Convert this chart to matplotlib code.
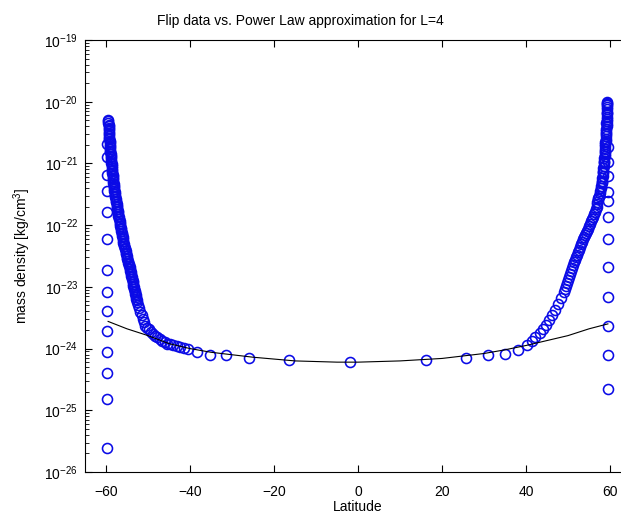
import matplotlib
matplotlib.use('Agg')
import matplotlib.pyplot as plt
import numpy as np

plt.rcParams['font.family'] = ['Liberation Sans', 'DejaVu Sans']
plt.rcParams['mathtext.fontset'] = 'custom'
plt.rcParams['mathtext.rm'] = 'Liberation Sans'

# flip data, dense band on the southern side (latitude, log10 density)
band_s_lat = [-59.5, -59.45, -59.4, -59.35, -59.3, -59.25, -59.2, -59.15, -59.1, -59.05,
              -58.97, -58.89, -58.81, -58.73, -58.65, -58.57, -58.49, -58.42, -58.34, -58.26, -58.18, -58.10,
              -57.97, -57.83, -57.70, -57.57, -57.43, -57.30, -57.17, -57.03, -56.90,
              -56.75, -56.60, -56.45, -56.30, -56.15, -56.00, -55.85, -55.70,
              -55.5, -55.3, -55.1, -54.9, -54.7, -54.5, -54.3,
              -54.13, -53.97, -53.80, -53.63, -53.47, -53.30,
              -53.13, -52.95, -52.78, -52.6,
              -52.33, -52.06, -51.79, -51.51, -51.24, -50.97, -50.70,
              -50.22, -49.74, -49.26, -48.78, -48.30,
              -47.74, -47.18, -46.62, -46.06, -45.50,
              -44.72, -43.95, -43.17, -42.40, -41.45, -40.50]
band_s_log = [-20.29, -20.34, -20.40, -20.45, -20.50, -20.56, -20.61, -20.66, -20.72, -20.77,
              -20.82, -20.88, -20.93, -20.99, -21.04, -21.10, -21.15, -21.20, -21.26, -21.31, -21.37, -21.42,
              -21.47, -21.53, -21.58, -21.63, -21.69, -21.74, -21.79, -21.85, -21.90,
              -21.96, -22.01, -22.07, -22.12, -22.18, -22.23, -22.29, -22.34,
              -22.39, -22.45, -22.50, -22.55, -22.61, -22.66, -22.71,
              -22.76, -22.82, -22.87, -22.92, -22.98, -23.03,
              -23.08, -23.14, -23.19, -23.24,
              -23.30, -23.35, -23.41, -23.46, -23.52, -23.57, -23.63,
              -23.66, -23.69, -23.73, -23.76, -23.79,
              -23.82, -23.84, -23.87, -23.89, -23.92,
              -23.93, -23.94, -23.96, -23.97, -23.99, -24.00]

# more points read in the solid part of the southern band
fill_s_lat = [-59.45, -59.40, -59.35, -59.30, -59.25, -59.20, -59.15, -59.10, -59.05, -58.98,
              -58.90, -58.82, -58.74, -58.66, -58.58, -58.50, -58.42, -58.34, -58.26, -58.18,
              -58.10, -58.00, -57.87, -57.74, -57.60, -57.47, -57.34, -57.20, -57.07, -56.94,
              -56.78, -56.63, -56.48, -56.33, -56.18, -56.03, -55.88, -55.73, -55.55, -55.35,
              -55.15, -54.95, -54.75, -54.55, -54.35, -54.17, -54.00, -53.83, -53.66, -53.50,
              -53.33, -53.15, -52.98, -52.80, -52.62]
fill_s_log = [-20.31, -20.37, -20.42, -20.47, -20.53, -20.58, -20.64, -20.69, -20.74, -20.80,
              -20.85, -20.90, -20.96, -21.01, -21.07, -21.12, -21.18, -21.23, -21.28, -21.34,
              -21.39, -21.45, -21.50, -21.55, -21.61, -21.66, -21.71, -21.77, -21.82, -21.87,
              -21.93, -21.98, -22.04, -22.09, -22.15, -22.20, -22.26, -22.31, -22.37, -22.42,
              -22.47, -22.53, -22.58, -22.63, -22.68, -22.74, -22.79, -22.84, -22.90, -22.95,
              -23.00, -23.06, -23.11, -23.16, -23.21]

# sparse points around the equator
mid_lat = [-38.3, -35.2, -31.4, -26.0, -16.4, -1.9, 16.2, 25.7, 31.0, 35.0, 38.1]
mid_log = [-24.05, -24.10, -24.11, -24.15, -24.19, -24.21, -24.19, -24.15, -24.11, -24.08, -24.02]

# dense band on the northern side
band_n_lat = [40.24, 41.43, 42.14, 43.33, 44.05, 44.76, 45.48, 46.19, 46.90, 47.62,
              48.33, 49.05, 49.52, 50.00, 50.48, 50.95, 51.43, 51.90, 52.38, 52.86,
              53.33, 53.81, 54.29, 54.76, 55.24, 55.71, 56.19, 56.67, 56.90, 57.14,
              57.25, 57.4, 57.55, 57.7, 57.8, 57.9, 58.0, 58.1, 58.2,
              58.3, 58.35, 58.4, 58.45, 58.5, 58.55, 58.6, 58.65, 58.7, 58.75,
              58.8, 58.85, 58.9, 58.9, 58.95, 59.0, 59.0, 59.05, 59.1, 59.1,
              59.3, 59.3, 59.3, 59.3, 59.3, 59.3, 59.3, 59.3, 59.3, 59.3, 59.3]
band_n_log = [-23.95, -23.87, -23.82, -23.74, -23.68, -23.61, -23.53, -23.45, -23.37, -23.27,
              -23.18, -23.08, -22.98, -22.89, -22.79, -22.69, -22.60, -22.52, -22.44, -22.35,
              -22.27, -22.19, -22.13, -22.06, -21.98, -21.90, -21.82, -21.74, -21.66, -21.58,
              -21.56, -21.52, -21.48, -21.44, -21.40, -21.36, -21.32, -21.28, -21.24,
              -21.20, -21.16, -21.12, -21.08, -21.04, -21.00, -20.96, -20.92, -20.88, -20.84,
              -20.80, -20.76, -20.72, -20.68, -20.64, -20.60, -20.56, -20.52, -20.48, -20.44,
              -20.40, -20.36, -20.32, -20.28, -20.24, -20.20, -20.16, -20.12, -20.08, -20.04, -20.00]

# more points read in the solid part of the northern band
fill_n_lat = [57.02, 56.79, 56.43, 55.95, 55.48, 55.00, 54.52, 54.05, 53.57, 53.10,
              52.62, 52.14, 51.67, 51.19, 50.72, 50.24, 49.76, 49.29,
              58.05, 58.25, 58.5, 58.7, 58.85, 59.0, 59.15, 59.25, 59.35, 59.35]
fill_n_log = [-21.62, -21.70, -21.78, -21.86, -21.94, -22.02, -22.10, -22.16, -22.23, -22.31,
              -22.40, -22.48, -22.56, -22.65, -22.74, -22.84, -22.94, -23.03,
              -21.30, -21.14, -20.98, -20.82, -20.66, -20.50, -20.34, -20.18, -20.06, -20.02]

# column of points at the field line ends
col_s_lat = -59.7
col_s_log = [-20.69, -20.90, -21.18, -21.45, -21.79, -22.23, -22.73, -23.08, -23.39,
             -23.71, -24.06, -24.40, -24.82, -25.61]
col_n_lat = 59.6
col_n_log = [-20.74, -20.98, -21.21, -21.47, -21.61, -21.87, -22.23, -22.68, -23.16,
             -23.63, -24.10, -24.65]

# power law approximation
fit_lat = [-59.5, -55, -50, -45, -40, -35, -30, -25, -20, -15, -10, -5, 0,
           5, 10, 15, 20, 25, 30, 35, 40, 45, 50, 55, 59.5]
fit_log = [-23.56, -23.68, -23.79, -23.92, -24.00, -24.06, -24.10, -24.14, -24.17, -24.20,
           -24.21, -24.22, -24.22, -24.21, -24.20, -24.18, -24.16, -24.12, -24.08, -24.02,
           -23.95, -23.87, -23.79, -23.68, -23.60]

lat = np.concatenate([band_s_lat, fill_s_lat, [col_s_lat] * len(col_s_log), mid_lat,
                      band_n_lat, fill_n_lat, [col_n_lat] * len(col_n_log)])
rho = 10.0 ** np.concatenate([band_s_log, fill_s_log, col_s_log, mid_log,
                              band_n_log, fill_n_log, col_n_log])

fig = plt.figure(figsize=(6.21, 5.14), dpi=100)
ax = fig.add_axes([85 / 621, 1 - 472 / 514, 546 / 621, 432 / 514])

ax.semilogy(lat, rho, 'o', mfc='none', mec='#0a0ae6', ms=7.2, mew=1.15, ls='none')
ax.semilogy(fit_lat, 10.0 ** np.array(fit_log), '-', color='black', lw=0.8)

ax.set_xlim(-65, 65)
ax.set_ylim(1e-26, 1e-19)
ax.set_xticks([-60, -40, -20, 0, 20, 40, 60])
ax.set_yticks([10.0 ** k for k in range(-26, -18)])
ax.tick_params(which='both', direction='in', top=True, right=True, labelsize=10)
ax.tick_params(axis='x', pad=9)
ax.tick_params(axis='y', pad=5)
ax.tick_params(which='major', length=5)
ax.tick_params(which='minor', length=3)
for s in ax.spines.values():
    s.set_linewidth(0.8)

ax.set_title('Flip data vs. Power Law approximation for L=4', fontsize=10, pad=11,
             x=(300 - 85) / 546)
ax.set_xlabel('Latitude', fontsize=10, labelpad=1)
ax.set_ylabel('mass density [kg/cm$^3$]', fontsize=10, labelpad=8)

plt.savefig('out.png', dpi=100)
